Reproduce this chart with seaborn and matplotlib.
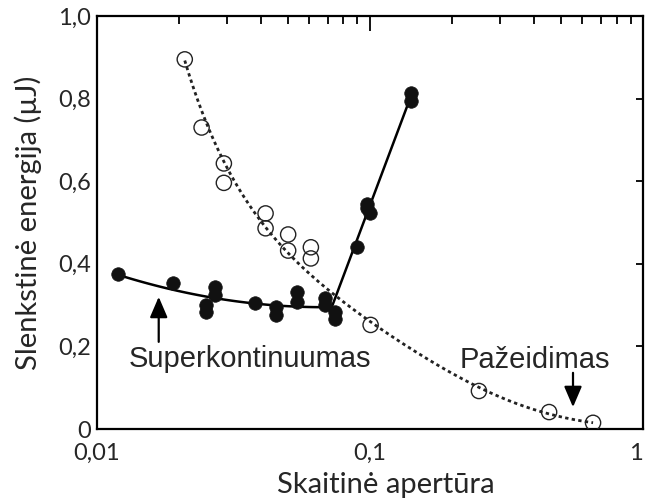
import numpy as np
import pandas as pd
import matplotlib
matplotlib.use("Agg")
import matplotlib.pyplot as plt
import seaborn as sns

# --- data ---
super_x = [0.0120, 0.0190, 0.0251, 0.0251, 0.0270, 0.0270, 0.0379, 0.0453, 0.0453,
           0.0542, 0.0542, 0.0684, 0.0684, 0.0745, 0.0745,
           0.0898, 0.0973, 0.0973, 0.100, 0.141, 0.141]
super_y = [0.375, 0.353, 0.300, 0.284, 0.343, 0.324, 0.304, 0.296, 0.276,
           0.332, 0.308, 0.316, 0.300, 0.284, 0.266,
           0.441, 0.546, 0.534, 0.522, 0.813, 0.793]

damage_x = [0.0210, 0.0242, 0.0292, 0.0292, 0.0415, 0.0415, 0.0502, 0.0502,
            0.0608, 0.0608, 0.1006, 0.2507, 0.453, 0.656]
damage_y = [0.895, 0.730, 0.643, 0.596, 0.522, 0.486, 0.471, 0.432,
            0.440, 0.413, 0.252, 0.092, 0.041, 0.015]

y_ticks = [0, 0.2, 0.4, 0.6, 0.8, 1.0]
y_tick_labels = ["0", "0,2", "0,4", "0,6", "0,8", "1,0"]
x_ticks = [0.01, 0.1, 1]
x_tick_labels = ["0,01", "0,1", "1"]

xlabel = "Skaitinė apertūra"
ylabel = "Slenkstinė energija (µJ)"
label_super = "Superkontinuumas"
label_damage = "Pažeidimas"

sns.set_style("white")
plt.rcParams['font.family'] = ['Lato', 'DejaVu Sans']

fig = plt.figure(figsize=(6.45, 5.0), dpi=100)
ax = fig.add_axes([0.150, 0.142, 0.847, 0.826])

sdf = pd.DataFrame({"x": super_x, "y": super_y})
ddf = pd.DataFrame({"x": damage_x, "y": damage_y})

# --- fitted trend lines (computed from the data) ---
# damage curve: cubic fit of log10(y) vs log10(x) on the lower envelope,
# with the end points weighted so the curve spans the full series
dmin = ddf.groupby("x", as_index=False)["y"].min()
dl = np.log10(dmin["x"].values)
w = np.ones(len(dl))
w[0] = 5.0
w[-1] = 2.0
pd_fit = np.polyfit(dl, np.log10(dmin["y"].values), 3, w=w)
lgrid = np.linspace(dl.min(), dl.max(), 300)
dcurve = pd.DataFrame({"x": 10 ** lgrid, "y": 10 ** np.polyval(pd_fit, lgrid)})

# supercontinuum: quadratic low branch + linear steep branch in log10(x)
sl = np.log10(sdf["x"].values)
low = sdf["x"].values < 0.08
p1 = np.polyfit(sl[low], sdf["y"].values[low], 2)
p2 = np.polyfit(sl[~low], sdf["y"].values[~low], 1)
roots = np.roots(np.polysub(p1, p2))
roots = roots[np.isreal(roots)].real
lx = roots[(roots > sl[low].max() - 0.2) & (roots < sl[~low].min() + 0.1)][0]
g1 = np.linspace(sl.min(), lx, 100)
g2 = np.linspace(lx, sl.max(), 100)
b1 = pd.DataFrame({"x": 10 ** g1, "y": np.polyval(p1, g1)})
b2 = pd.DataFrame({"x": 10 ** g2, "y": np.polyval(p2, g2)})

sns.lineplot(data=dcurve, x="x", y="y", ax=ax, color="#222222", lw=2.0,
             sort=False, estimator=None)
ax.lines[-1].set_dashes((1.2, 1.2))
sns.lineplot(data=b1, x="x", y="y", ax=ax, color="black", lw=1.8, sort=False, estimator=None)
sns.lineplot(data=b2, x="x", y="y", ax=ax, color="black", lw=1.8, sort=False, estimator=None)

sns.scatterplot(data=ddf, x="x", y="y", ax=ax, marker="o", s=120,
                facecolor="none", edgecolor="#222222", linewidth=1.0, zorder=3)
sns.scatterplot(data=sdf, x="x", y="y", ax=ax, marker="o", s=95,
                color="#111111", edgecolor="#111111", linewidth=0.5, zorder=4)

ax.set_xscale("log")
ax.set_xlim(0.01, 1)
ax.set_ylim(0, 1.0)
ax.set_xticks(x_ticks)
ax.set_xticklabels(x_tick_labels)
ax.get_xticklabels()[-1].set_horizontalalignment("right")
ax.set_yticks(y_ticks)
ax.set_yticklabels(y_tick_labels)
ax.set_xlabel(xlabel, fontsize=21)
ax.set_ylabel(ylabel, fontsize=21)
ax.xaxis.set_label_coords(0.529, -0.105)
ax.xaxis.label.set_va("top")
ax.yaxis.set_label_coords(-0.100, 0.50)

ax.tick_params(axis="both", which="both", direction="in", top=True, right=True,
               labelsize=17, width=1.3, color="black")
ax.tick_params(axis="x", which="major", length=11, pad=10)
ax.tick_params(axis="x", which="minor", length=6)
ax.tick_params(axis="y", which="major", length=5, pad=4)
for s in ax.spines.values():
    s.set_linewidth(1.6)
    s.set_color("black")

afont = dict(family=["Liberation Sans", "DejaVu Sans"], fontsize=21)
ax.text(0.0363, 0.150, label_super, ha="center", va="baseline", **afont)
ax.text(0.402, 0.148, label_damage, ha="center", va="baseline", **afont)
arrow = dict(arrowstyle="-|>,head_length=0.7,head_width=0.3", lw=1.6, color="black",
             shrinkA=0, shrinkB=0, mutation_scale=18)
ax.annotate("", xy=(0.01686, 0.320), xytext=(0.01686, 0.211), arrowprops=arrow)
ax.annotate("", xy=(0.554, 0.053), xytext=(0.554, 0.136), arrowprops=arrow)

fig.savefig("out.png", dpi=100)
